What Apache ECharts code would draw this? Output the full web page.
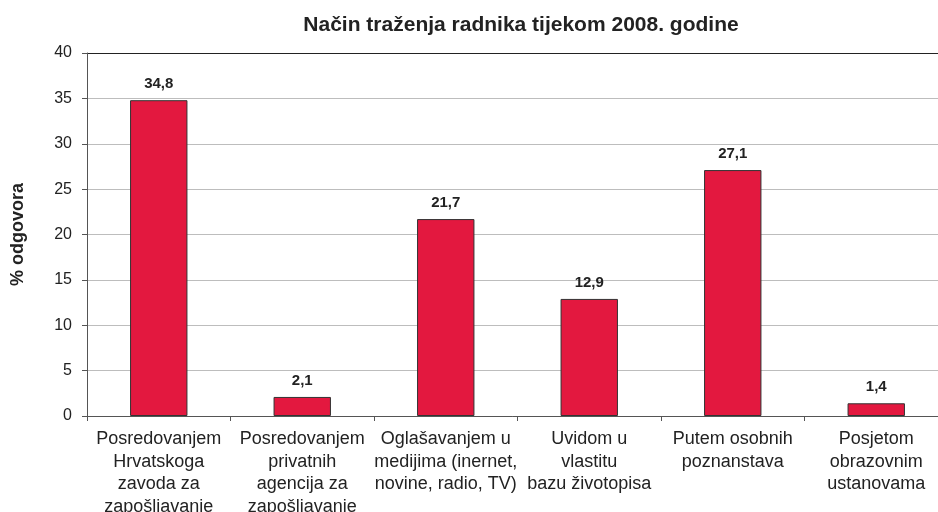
<!DOCTYPE html>
<html>
<head>
<meta charset="utf-8">
<script src="https://cdn.jsdelivr.net/npm/echarts@6/dist/echarts.min.js"></script>
<style>
  html, body { margin: 0; padding: 0; background: #fff; }
  #chart { width: 938px; height: 512px; }
</style>
</head>
<body>
<div id="chart"></div>
<script>
const categories = [
  "Posredovanjem\nHrvatskoga\nzavoda za\nzapošljavanje",
  "Posredovanjem\nprivatnih\nagencija za\nzapošljavanje",
  "Oglašavanjem u\nmedijima (inernet,\nnovine, radio, TV)",
  "Uvidom u\nvlastitu\nbazu životopisa",
  "Putem osobnih\npoznanstava",
  "Posjetom\nobrazovnim\nustanovama"
];
const values = [34.8, 2.1, 21.7, 12.9, 27.1, 1.4];

const font = "'Liberation Sans', Arial, sans-serif";

// gridlines light, top one dark like a frame
const gridColors = ["#bdbdbd", "#bdbdbd", "#bdbdbd", "#bdbdbd", "#bdbdbd", "#bdbdbd", "#bdbdbd", "#bdbdbd", "#222"];

const myChart = echarts.init(document.getElementById("chart"));
myChart.setOption({
  animation: false,
  title: {
    text: "Način traženja radnika tijekom 2008. godine",
    left: 516,
    textAlign: "center",
    top: 10,
    textStyle: { fontFamily: font, fontSize: 21, fontWeight: "bold", color: "#222" }
  },
  grid: { left: 87, right: -10, top: 53, bottom: 96, outerBoundsMode: "none" },
  xAxis: {
    type: "category",
    data: categories,
    axisLine: { lineStyle: { color: "#555", width: 1 } },
    axisTick: { show: true, length: 5, alignWithLabel: false, lineStyle: { color: "#555" } },
    axisLabel: {
      interval: 0,
      margin: 12,
      fontFamily: font,
      fontSize: 18,
      lineHeight: 22.5,
      color: "#222"
    }
  },
  yAxis: {
    type: "value",
    min: 0,
    max: 40,
    interval: 5,
    name: "% odgovora",
    nameLocation: "middle",
    nameGap: 60,
    nameTextStyle: { fontFamily: font, fontSize: 18, fontWeight: "bold", color: "#222" },
    axisLine: { show: true, lineStyle: { color: "#555" } },
    axisTick: { show: true, length: 5, lineStyle: { color: "#555" } },
    axisLabel: { fontFamily: font, fontSize: 16, color: "#222", margin: 15 },
    splitLine: { lineStyle: { color: gridColors, width: 1 } }
  },
  series: [
    {
      type: "bar",
      data: values,
      barWidth: "40%",
      itemStyle: { color: "#e3183f", borderColor: "#333", borderWidth: 1 },
      label: {
        show: true,
        position: "top",
        distance: 9,
        formatter: (p) => String(p.value).replace(".", ","),
        fontFamily: font,
        fontSize: 15,
        fontWeight: "bold",
        color: "#222"
      }
    }
  ]
});
</script>
</body>
</html>
